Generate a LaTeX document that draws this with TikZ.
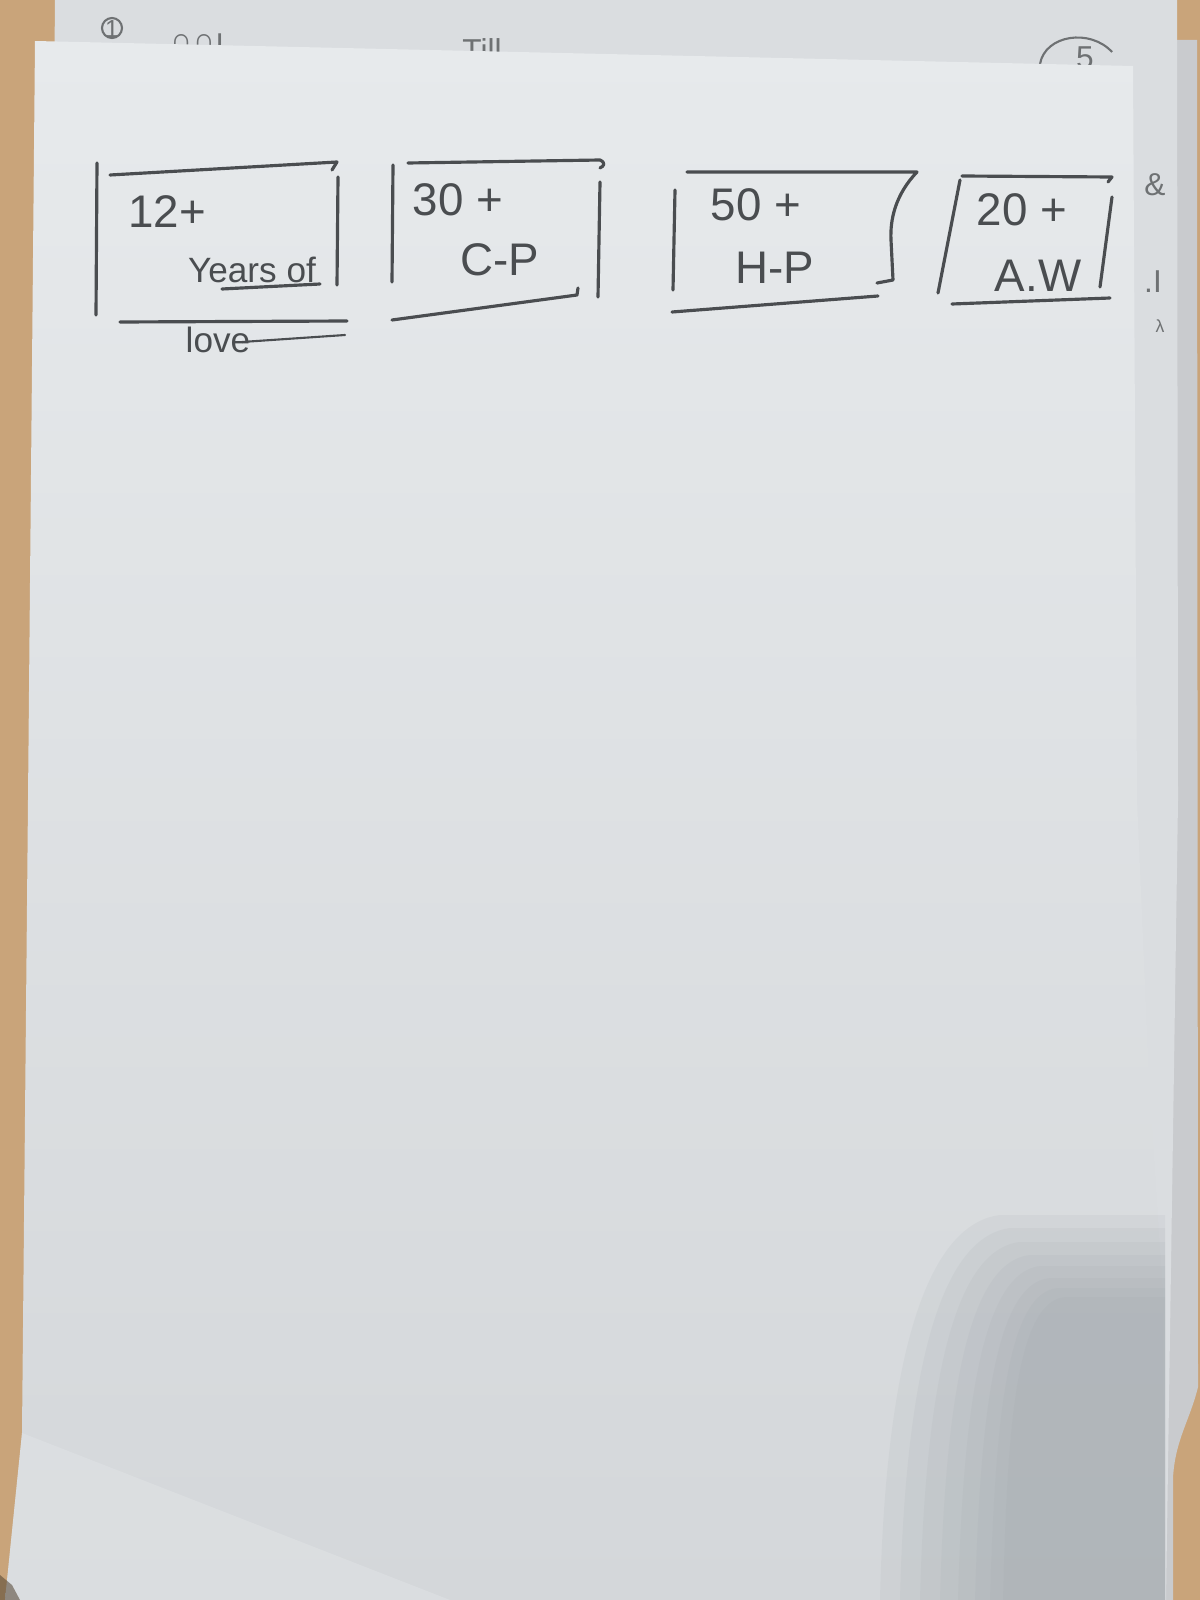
\documentclass[tikz,border=0pt]{standalone}
\usepackage{fontspec}
\setmainfont{Liberation Sans}
\begin{document}
\begin{tikzpicture}[x=0.01cm,y=-0.01cm,
  pen/.style={draw=ink,line width=0.9pt,line cap=round,line join=round},
  hand/.style={text=ink,inner sep=0pt,font=\fontsize{13}{14}\selectfont},
  handsm/.style={text=ink,inner sep=0pt,font=\fontsize{10}{12}\selectfont},
  faint/.style={text=ink!80,inner sep=0pt,font=\fontsize{9}{10}\selectfont},
  shadowlayer/.style={fill=shadowgrey,opacity=0.1}]
\definecolor{ink}{HTML}{4A4D50}
\definecolor{wood}{HTML}{C9A47A}
\definecolor{backsheet}{HTML}{DADDE0}
\definecolor{sheettop}{HTML}{E7EAEC}
\definecolor{sheetbot}{HTML}{D4D7DA}
\definecolor{shadowgrey}{HTML}{9AA1A6}
\useasboundingbox (0,0) rectangle (1200,1600);
% background and back sheets
\fill[wood] (0,0) rectangle (1200,1600);
\fill[backsheet!92!black] (1170,40) -- (1197,40) -- (1198,1387) .. controls (1190,1420) and (1175,1440) .. (1173,1478) -- (1173,1600) -- (1160,1600) -- cycle;
\fill[backsheet] (55,0) -- (1177,0) -- (1178,800) -- (1166,1600) -- (40,1600) -- cycle;
% marks on back sheet top edge (partly hidden by the front sheet)
\draw[ink!80,line width=0.6pt] (112,28) circle (10);
\node[faint] (m1) at (112,29) {\fontsize{7}{8}\selectfont 1};
\node[faint] (m2) at (197,42) {∩∩ı};
\node[faint] (m3) at (482,50) {Till};
\draw[ink!80,line width=0.6pt] (1040,64) .. controls (1045,35) and (1090,28) .. (1112,52);
\node[faint] (m4) at (1085,58) {5};
% front sheet
\shade[top color=sheettop,bottom color=sheetbot] (35,41) -- (1133,66) -- (1137,800) -- (1150,1100) -- (1163,1300) -- (1165,1600) -- (5,1600) -- (22,1433) -- (28,800) -- cycle;
\fill[sheettop,opacity=0.35] (22,1433) -- (450,1600) -- (5,1600) -- cycle;
% shadow at bottom right (soft edge, built from layers)
\fill[shadowlayer] (880,1600) .. controls (885,1380) and (920,1225) .. (1000,1215) -- (1165,1215) -- (1165,1600) -- cycle;
\fill[shadowlayer] (900,1600) .. controls (905,1390) and (935,1238) .. (1010,1228) -- (1165,1228) -- (1165,1600) -- cycle;
\fill[shadowlayer] (920,1600) .. controls (925,1400) and (950,1250) .. (1020,1242) -- (1165,1242) -- (1165,1600) -- cycle;
\fill[shadowlayer] (940,1600) .. controls (945,1410) and (965,1262) .. (1030,1255) -- (1165,1255) -- (1165,1600) -- cycle;
\fill[shadowlayer] (958,1600) .. controls (963,1418) and (980,1273) .. (1040,1266) -- (1165,1266) -- (1165,1600) -- cycle;
\fill[shadowlayer] (975,1600) .. controls (980,1425) and (993,1283) .. (1050,1278) -- (1165,1278) -- (1165,1600) -- cycle;
\fill[shadowlayer] (990,1600) .. controls (995,1433) and (1005,1292) .. (1058,1288) -- (1165,1288) -- (1165,1600) -- cycle;
\fill[shadowlayer] (1003,1600) .. controls (1007,1440) and (1014,1300) .. (1066,1297) -- (1165,1297) -- (1165,1600) -- cycle;
\fill[wood!40!black,opacity=0.55] (0,1575) -- (12,1585) -- (20,1600) -- (0,1600) -- cycle;
% box 1
\draw[pen] (97,163) -- (96,315);
\draw[pen] (110,175) -- (337,162) -- (332,170);
\draw[pen] (338,177) -- (337,285);
\draw[pen] (120,322) -- (347,321);
\draw[pen] (222,289) -- (320,284);
\node[hand] (t1a) at (167,212) {12+};
\node[handsm] (t1b) at (252,270) {Years of};
\node[handsm] (t1c) at (218,340) {love};
\draw[pen,line width=0.6pt] (242,342) -- (345,335);
% box 2
\draw[pen] (393,165) -- (392,282);
\draw[pen] (408,163) -- (600,160) .. controls (606,163) and (604,166) .. (600,168);
\draw[pen] (600,182) -- (598,297);
\draw[pen] (392,320) -- (577,295) -- (578,288);
\node[hand] (t2a) at (458,200) {30 +};
\node[hand] (t2b) at (500,260) {C-P};
% box 3
\draw[pen] (675,190) -- (673,290);
\draw[pen] (687,172) -- (917,172) .. controls (895,195) and (890,220) .. (891,240) -- (893,280) -- (877,283);
\draw[pen] (672,312) -- (878,296);
\node[hand] (t3a) at (756,205) {50 +};
\node[hand] (t3b) at (775,268) {H-P};
% box 4
\draw[pen] (960,180) -- (938,293);
\draw[pen] (962,176) -- (1112,177) -- (1108,182);
\draw[pen] (1112,197) -- (1100,287);
\draw[pen] (952,304) -- (1110,298);
\node[hand] (t4a) at (1022,210) {20 +};
\node[hand] (t4b) at (1038,276) {A.W};
% margin marks (on the back sheet, right of the front sheet)
\node[faint] (m5) at (1155,185) {\&};
\node[faint] (m6) at (1153,282) {.I};
\node[faint] (m7) at (1160,326) {\tiny λ};
\end{tikzpicture}
\end{document}
